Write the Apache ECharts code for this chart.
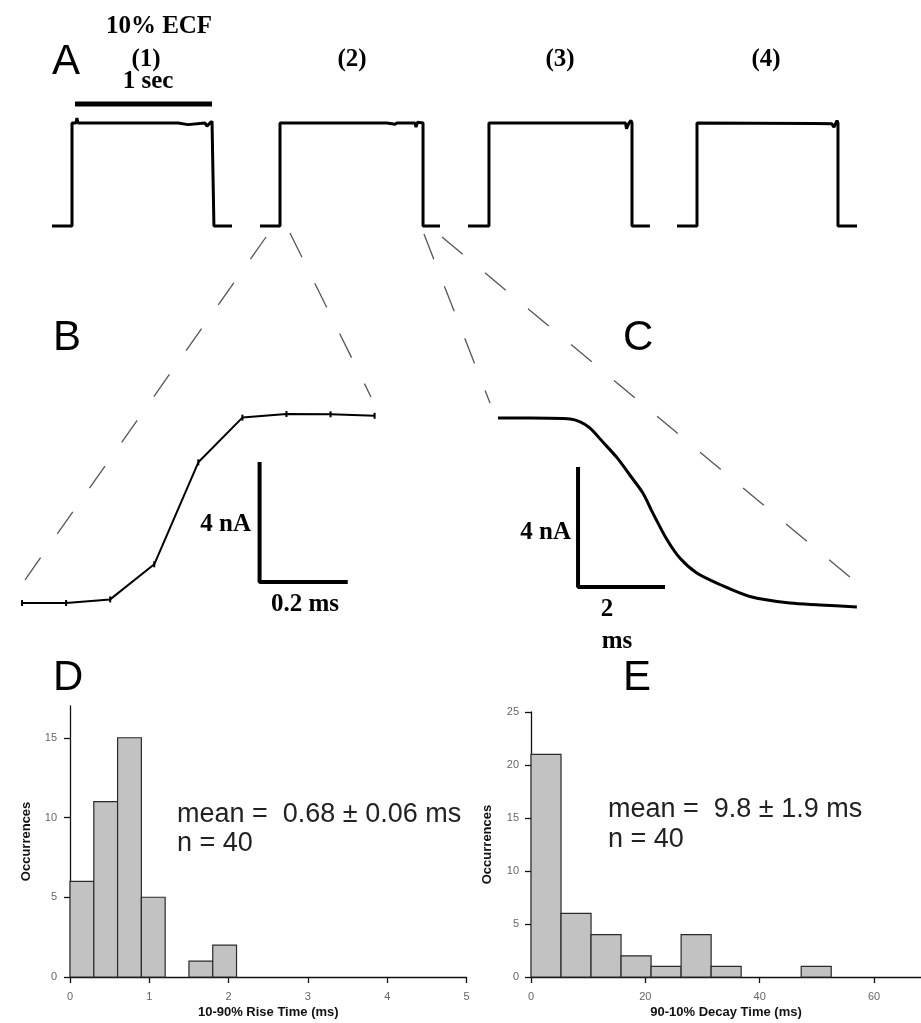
<!DOCTYPE html>
<html>
<head>
<meta charset="utf-8">
<script src="https://cdn.jsdelivr.net/npm/echarts@6/dist/echarts.min.js"></script>
<style>
  html, body { margin: 0; padding: 0; background: #fff; }
  #chart { width: 921px; height: 1023px; }
</style>
</head>
<body>
<div id="chart"></div>
<script>
// ---- data ----
// panel A: four current steps, [time (s), current (nA)]
var traceA1 = [[0, 0], [0.146, 0], [0.146, 6.3], [0.175, 6.3], [0.182, 6.6], [0.19, 6.3], [0.92, 6.3], [0.927, 6.2], [0.993, 6.2], [1.0, 6.3], [1.117, 6.3], [1.131, 6.1], [1.153, 6.3], [1.168, 6.4], [1.182, 6.3], [1.182, 0], [1.314, 0]];
var traceA2 = [[0, 0], [0.146, 0], [0.146, 6.3], [0.927, 6.3], [0.934, 6.22], [0.985, 6.22], [1.0, 6.3], [1.131, 6.3], [1.139, 6.05], [1.15, 6.35], [1.19, 6.3], [1.19, 0], [1.314, 0]];
var traceA3 = [[0, 0], [0.153, 0], [0.153, 6.3], [1.15, 6.3], [1.157, 5.95], [1.175, 6.3], [1.19, 6.45], [1.197, 6.3], [1.197, 0], [1.328, 0]];
var traceA4 = [[0, 0], [0.146, 0], [0.146, 6.3], [1.0, 6.27], [1.13, 6.25], [1.146, 6.05], [1.16, 6.3], [1.168, 6.45], [1.175, 6.3], [1.175, 0], [1.314, 0]];
var oneSecBar = [[0.168, 7.46], [1.168, 7.46]];

// panel B: rise, [time (ms), current (nA)]
var riseTrace = [[0, 0], [0.1, 0], [0.2, 0.12], [0.3, 1.29], [0.4, 4.69], [0.5, 6.18], [0.6, 6.3], [0.7, 6.29], [0.8, 6.24]];
var riseScaleBar = [[0.539, 4.7], [0.539, 0.7], [0.739, 0.7]];

// panel C: decay, [time (ms), current (nA)]
var decayTrace = [[0, 6.3], [0.74, 6.3], [1.66, 6.27], [1.89, 6.17], [2.11, 5.97], [2.41, 5.5], [2.74, 4.97], [3.03, 4.4], [3.33, 3.8], [3.56, 3.13], [3.89, 2.23], [4.18, 1.63], [4.57, 1.13], [5.1, 0.75], [5.79, 0.35], [6.71, 0.13], [7.4, 0.07], [8.25, 0]];
var decayScaleBar = [[1.84, 4.67], [1.84, 0.67], [3.84, 0.67]];

// panel D: rise time histogram
var riseBinStart = [0, 0.3, 0.6, 0.9, 1.2, 1.5, 1.8];
var riseCounts = [6, 11, 15, 5, 0, 1, 2];
var riseBinWidth = 0.3;
var riseTicksY = [0, 5, 10, 15];

// panel E: decay time histogram
var decayBinStart = [0, 5.25, 10.5, 15.75, 21, 26.25, 31.5, 36.75, 42, 47.25];
var decayCounts = [21, 6, 4, 2, 1, 4, 1, 0, 0, 1];
var decayBinWidth = 5.25;
var decayTicksX = [0, 20, 40, 60];

// zoom guides (page pixels)
var guideBLeft = [[266, 237], [20, 587]];
var guideBRight = [[290, 233], [371, 397]];
var guideCLeft = [[424, 234], [490, 403]];
var guideCRight = [[442, 237], [857, 583]];

// ---- layout ----
var SERIF = '"Liberation Serif", "Times New Roman", serif';
var SANS = '"Liberation Sans", Arial, sans-serif';

function box(x0, y0, sx, sy, xmin, xmax, ymin, ymax) {
    return { left: x0 + xmin * sx, top: y0 - ymax * sy, width: (xmax - xmin) * sx, height: (ymax - ymin) * sy };
}

var aX0 = [52, 260, 468, 677];
var grids = [], xAxes = [], yAxes = [];
aX0.forEach(function (x0, i) {
    grids.push(box(x0, 226, 137, 16.35, 0, 1.36, -0.8, 8));
    xAxes.push({ type: 'value', gridIndex: i, min: 0, max: 1.36, show: false });
    yAxes.push({ type: 'value', gridIndex: i, min: -0.8, max: 8, show: false });
});
grids.push(box(15, 603, 449, 30, -0.05, 0.85, -0.5, 7));   // 4: B
xAxes.push({ type: 'value', gridIndex: 4, min: -0.05, max: 0.85, show: false });
yAxes.push({ type: 'value', gridIndex: 4, min: -0.5, max: 7, show: false });
grids.push(box(498, 607, 43.5, 30, -0.2, 8.5, -0.5, 7));   // 5: C
xAxes.push({ type: 'value', gridIndex: 5, min: -0.2, max: 8.5, show: false });
yAxes.push({ type: 'value', gridIndex: 5, min: -0.5, max: 7, show: false });

var axisLine = { show: true, lineStyle: { color: '#111', width: 1.3 } };
var axisTick = { show: true, inside: false, length: 6, lineStyle: { color: '#111', width: 1.3 } };
var tickLabel = { color: '#666', fontSize: 11, fontFamily: SANS };
var axisName = { color: '#111', fontSize: 13, fontWeight: 'bold', fontFamily: SANS };

grids.push(box(70, 977, 79.3, 15.95, 0, 5, 0, 17));       // 6: D
xAxes.push({
    type: 'value', gridIndex: 6, min: 0, max: 5, interval: 1,
    axisLine: axisLine, axisTick: axisTick, splitLine: { show: false },
    axisLabel: Object.assign({ margin: 14 }, tickLabel),
    name: '10-90% Rise Time (ms)', nameLocation: 'middle', nameGap: 29, nameTextStyle: axisName
});
yAxes.push({
    type: 'value', gridIndex: 6, min: 0, max: 17, interval: 5,
    axisLine: axisLine, splitLine: { show: false },
    axisTick: Object.assign({ customValues: riseTicksY }, axisTick),
    axisLabel: Object.assign({ margin: 13, customValues: riseTicksY }, tickLabel),
    name: 'Occurrences', nameLocation: 'middle', nameGap: 37, nameTextStyle: axisName
});

grids.push(box(531, 977, 5.72, 10.6, 0, 68.2, 0, 25));    // 7: E
xAxes.push({
    type: 'value', gridIndex: 7, min: 0, max: 68.2, interval: 20,
    axisLine: axisLine, splitLine: { show: false },
    axisTick: Object.assign({ customValues: decayTicksX }, axisTick),
    axisLabel: Object.assign({ margin: 14, customValues: decayTicksX }, tickLabel),
    name: '90-10% Decay Time (ms)', nameLocation: 'middle', nameGap: 29, nameTextStyle: axisName
});
yAxes.push({
    type: 'value', gridIndex: 7, min: 0, max: 25, interval: 5,
    axisLine: axisLine, axisTick: axisTick, splitLine: { show: false },
    axisLabel: Object.assign({ margin: 12 }, tickLabel),
    name: 'Occurrences', nameLocation: 'middle', nameGap: 37, nameTextStyle: axisName
});

grids.push({ left: 0, top: 0, width: 921, height: 1023 }); // 8: page overlay
xAxes.push({ type: 'value', gridIndex: 8, min: 0, max: 921, show: false });
yAxes.push({ type: 'value', gridIndex: 8, min: 0, max: 1023, inverse: true, show: false });

// ---- series ----
function trace(data, idx, width) {
    return {
        type: 'line', xAxisIndex: idx, yAxisIndex: idx, data: data,
        symbol: 'none', lineStyle: { color: '#000', width: width }, clip: false
    };
}

function histData(starts, counts, width) {
    var out = [];
    starts.forEach(function (s, i) {
        if (counts[i] > 0) out.push([s, s + width, counts[i]]);
    });
    return out;
}

function histSeries(data, idx) {
    return {
        type: 'custom', xAxisIndex: idx, yAxisIndex: idx, data: data,
        encode: { x: [0, 1], y: 2 },
        renderItem: function (params, api) {
            var p0 = api.coord([api.value(0), api.value(2)]);
            var p1 = api.coord([api.value(1), 0]);
            return {
                type: 'rect',
                shape: { x: p0[0], y: p0[1], width: p1[0] - p0[0], height: p1[1] - p0[1] },
                style: { fill: '#c2c2c2', stroke: '#2a2a2a', lineWidth: 1.2 }
            };
        }
    };
}

function guide(data) {
    return {
        type: 'line', xAxisIndex: 8, yAxisIndex: 8, data: data, symbol: 'none',
        lineStyle: { color: '#555', width: 1.3, type: [27, 29] }
    };
}

var series = [
    trace(traceA1, 0, 3), trace(traceA2, 1, 3), trace(traceA3, 2, 3), trace(traceA4, 3, 3),
    trace(oneSecBar, 0, 5),
    {
        type: 'line', xAxisIndex: 4, yAxisIndex: 4, data: riseTrace,
        symbol: 'rect', symbolSize: [2, 6], showSymbol: true,
        itemStyle: { color: '#000' }, lineStyle: { color: '#000', width: 2 }
    },
    trace(riseScaleBar, 4, 4),
    {
        type: 'line', xAxisIndex: 5, yAxisIndex: 5, data: decayTrace, smooth: 0.3,
        symbol: 'none', lineStyle: { color: '#000', width: 3 }
    },
    trace(decayScaleBar, 5, 4),
    histSeries(histData(riseBinStart, riseCounts, riseBinWidth), 6),
    histSeries(histData(decayBinStart, decayCounts, decayBinWidth), 7),
    guide(guideBLeft), guide(guideBRight), guide(guideCLeft), guide(guideCRight)
];

// ---- text ----
function label(text, x, y, font, align, color) {
    return {
        type: 'text', x: x, y: y, silent: true,
        style: {
            text: text, font: font, fill: color || '#000',
            align: align || 'center', verticalAlign: 'middle',
            textAlign: align || 'center', textVerticalAlign: 'middle'
        }
    };
}

var serifBold = 'bold 25px ' + SERIF;
var letterFont = '42px ' + SANS;
var statFont = '27px ' + SANS;

var graphics = [
    label('10% ECF', 159, 27, serifBold),
    label('(1)', 146, 60, serifBold),
    label('1 sec', 148, 82, serifBold),
    label('(2)', 352, 60, serifBold),
    label('(3)', 560, 60, serifBold),
    label('(4)', 766, 60, serifBold),
    label('A', 52, 62, letterFont, 'left'),
    label('B', 53, 338, letterFont, 'left'),
    label('C', 623, 338, letterFont, 'left'),
    label('D', 53, 678, letterFont, 'left'),
    label('E', 623, 678, letterFont, 'left'),
    label('4 nA', 251, 525, serifBold, 'right'),
    label('0.2 ms', 305, 605, serifBold),
    label('4 nA', 571, 533, serifBold, 'right'),
    label('2', 607, 610, serifBold),
    label('ms', 617, 642, serifBold),
    label('mean =  0.68 \u00b1 0.06 ms', 177, 815, statFont, 'left', '#222'),
    label('n = 40', 177, 844, statFont, 'left', '#222'),
    label('mean =  9.8 \u00b1 1.9 ms', 608, 810, statFont, 'left', '#222'),
    label('n = 40', 608, 840, statFont, 'left', '#222')
];

var chart = echarts.init(document.getElementById('chart'));
chart.setOption({
    backgroundColor: '#fff',
    animation: false,
    grid: grids,
    xAxis: xAxes,
    yAxis: yAxes,
    series: series,
    graphic: { elements: graphics }
});
</script>
</body>
</html>
